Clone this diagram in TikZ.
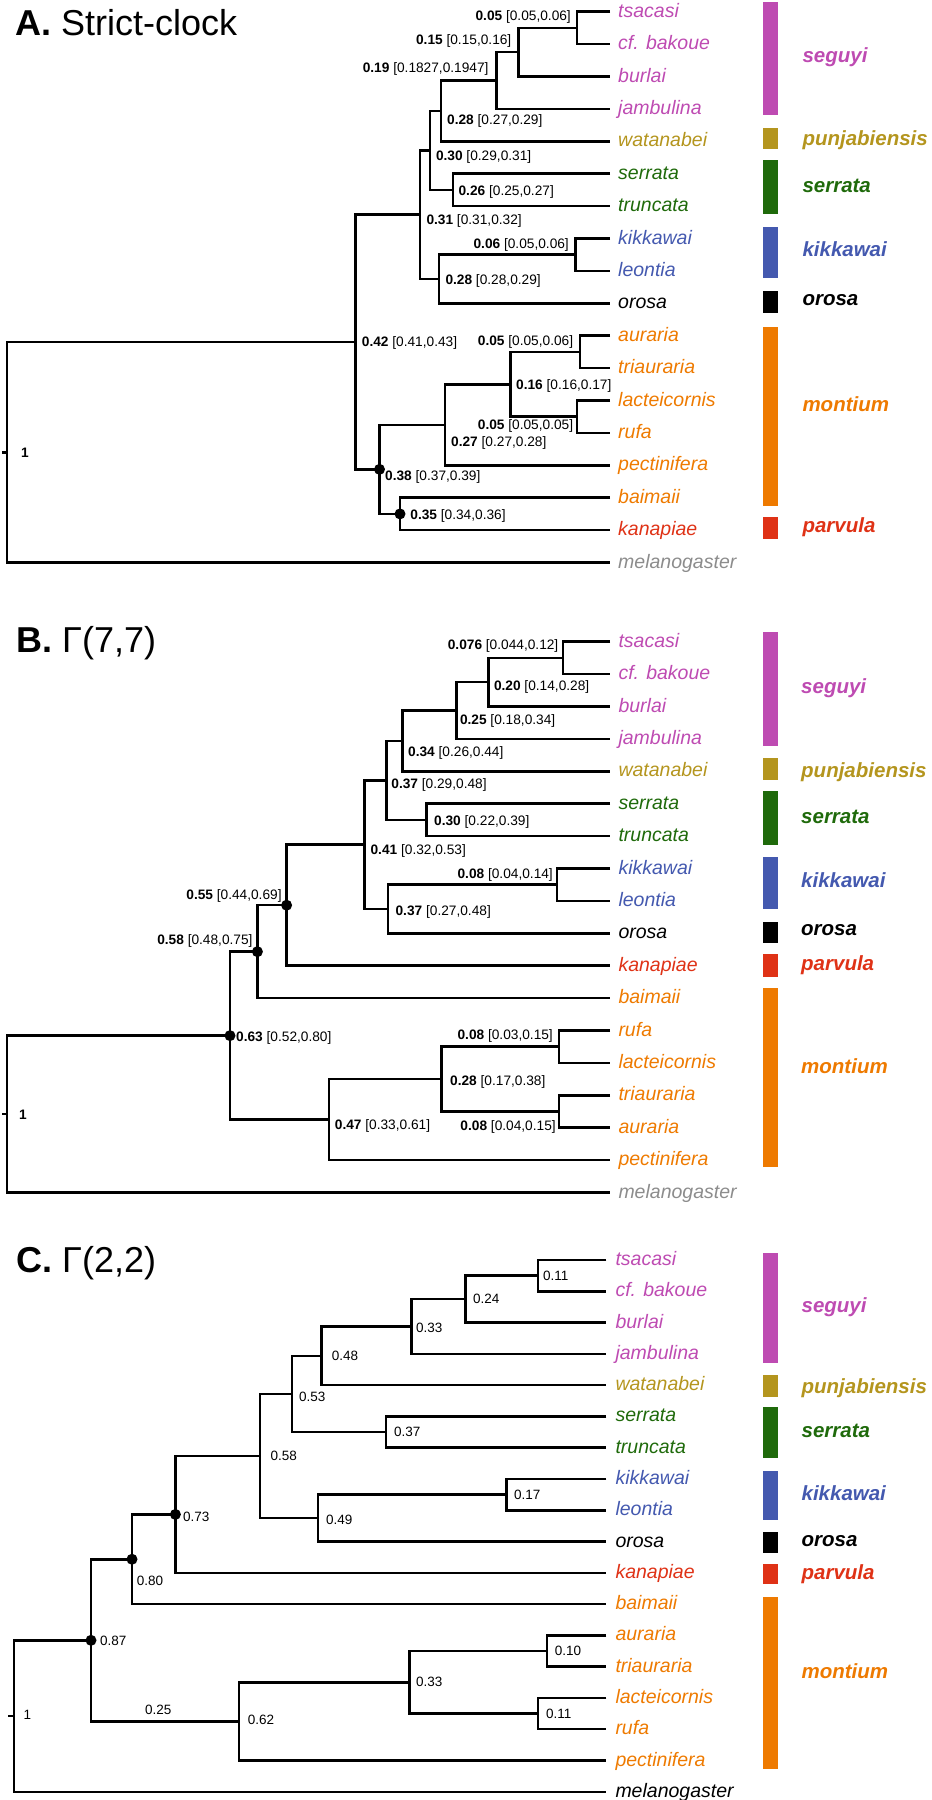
\documentclass[tikz,border=0pt]{standalone}
\usepackage{fontspec}
\setmainfont{Liberation Sans}
\definecolor{cseg}{HTML}{BE4BB2}
\definecolor{cpun}{HTML}{B4951E}
\definecolor{cser}{HTML}{1F6A0B}
\definecolor{ckik}{HTML}{4459AF}
\definecolor{cmon}{HTML}{EE7A00}
\definecolor{cpar}{HTML}{DF3216}
\definecolor{cmel}{HTML}{8C8C8C}
\newcommand{\nlb}[2]{\textbf{#1} #2}
\tikzset{
  br/.style={line width=2.5pt, line join=miter},
  tiplab/.style={font=\fontsize{19.5}{20}\selectfont\itshape, inner sep=0pt, anchor=base west},
  cladelab/.style={font=\fontsize{20.5}{22}\selectfont\bfseries\itshape, inner sep=0pt, anchor=base west},
  nlab/.style={font=\fontsize{13.7}{14}\selectfont, inner sep=0pt},
  clab/.style={font=\fontsize{13.5}{14}\selectfont, inner sep=0pt, anchor=base west},
  ttl/.style={font=\fontsize{36}{38}\selectfont, inner sep=0pt, anchor=base west},
  dotnode/.style={circle, fill=black, inner sep=0pt, minimum size=11pt},
}
\begin{document}
\begin{tikzpicture}[x=1pt, y=-1pt]
\useasboundingbox (0,0) rectangle (932,1800);

% ================= Panel A =================
\node[ttl] (titleA) at (15,35.7) {\textbf{A.} Strict-clock};
\foreach \i/\t/\c in {0/tsacasi/cseg,1/cf. bakoue/cseg,2/burlai/cseg,3/jambulina/cseg,4/watanabei/cpun,5/serrata/cser,6/truncata/cser,7/kikkawai/ckik,8/leontia/ckik,9/orosa/black,10/auraria/cmon,11/triauraria/cmon,12/lacteicornis/cmon,13/rufa/cmon,14/pectinifera/cmon,15/baimaii/cmon,16/kanapiae/cpar,17/melanogaster/cmel}{
  \coordinate (At\i) at (610,{11.7+32.4*\i});
  \node[tiplab, text=\c] (AL\i) at (618,{17.2+32.4*\i}) {\t};
}
\coordinate (Aa1) at (577,27.9);
\coordinate (Aa2) at (518.5,52.2);
\coordinate (Aa3) at (496.5,80.55);
\coordinate (Aa4) at (441,110.93);
\coordinate (Aa5) at (453,189.9);
\coordinate (Aa6) at (430,150.41);
\coordinate (Aa7) at (575.5,254.7);
\coordinate (Aa8) at (439,279);
\coordinate (Aa9) at (420,214.71);
\coordinate (Aa10) at (580,351.9);
\coordinate (Aa11) at (577,416.7);
\coordinate (Aa12) at (510.5,384.3);
\coordinate (Aa13) at (445,424.8);
\coordinate (Aa14) at (400,513.9);
\coordinate (Aa15) at (379.5,469.35);
\coordinate (Aa16) at (355.5,342.03);
\coordinate (Ar) at (7,452.27);
\coordinate (Arstem) at (2,452.27);
\draw[br] (At0) -| (Aa1) |- (At1);
\draw[br] (Aa1) -| (Aa2) |- (At2);
\draw[br] (Aa2) -| (Aa3) |- (At3);
\draw[br] (Aa3) -| (Aa4) |- (At4);
\draw[br] (At5) -| (Aa5) |- (At6);
\draw[br] (Aa4) -| (Aa6) |- (Aa5);
\draw[br] (At7) -| (Aa7) |- (At8);
\draw[br] (Aa7) -| (Aa8) |- (At9);
\draw[br] (Aa6) -| (Aa9) |- (Aa8);
\draw[br] (At10) -| (Aa10) |- (At11);
\draw[br] (At12) -| (Aa11) |- (At13);
\draw[br] (Aa10) -| (Aa12) |- (Aa11);
\draw[br] (Aa12) -| (Aa13) |- (At14);
\draw[br] (At15) -| (Aa14) |- (At16);
\draw[br] (Aa13) -| (Aa15) |- (Aa14);
\draw[br] (Aa9) -| (Aa16) |- (Aa15);
\draw[br] (Aa16) -| (Ar) |- (At17);
\draw[br] (Arstem) -- (Ar);
\node[dotnode] (AdA14) at (Aa14) {};
\node[dotnode] (AdA15) at (Aa15) {};
\node[nlab, anchor=base east] (An1) at (571,20.4) {\nlb{0.05}{[0.05,0.06]}};
\node[nlab, anchor=base east] (An2) at (511.5,44.7) {\nlb{0.15}{[0.15,0.16]}};
\node[nlab, anchor=base east] (An3) at (488.7,72) {\nlb{0.19}{[0.1827,0.1947]}};
\node[nlab, anchor=base west] (An4) at (447,124) {\nlb{0.28}{[0.27,0.29]}};
\node[nlab, anchor=base west] (An5) at (458.4,195.4) {\nlb{0.26}{[0.25,0.27]}};
\node[nlab, anchor=base west] (An6) at (435.8,160) {\nlb{0.30}{[0.29,0.31]}};
\node[nlab, anchor=base east] (An7) at (569,248.4) {\nlb{0.06}{[0.05,0.06]}};
\node[nlab, anchor=base west] (An8) at (445.3,284.7) {\nlb{0.28}{[0.28,0.29]}};
\node[nlab, anchor=base west] (An9) at (426.3,224.7) {\nlb{0.31}{[0.31,0.32]}};
\node[nlab, anchor=base east] (An10) at (573.3,345) {\nlb{0.05}{[0.05,0.06]}};
\node[nlab, anchor=base east] (An11) at (573.3,429.3) {\nlb{0.05}{[0.05,0.05]}};
\node[nlab, anchor=base west] (An12) at (516,389) {\nlb{0.16}{[0.16,0.17]}};
\node[nlab, anchor=base west] (An13) at (451,446) {\nlb{0.27}{[0.27,0.28]}};
\node[nlab, anchor=base west] (An14) at (410.2,519.4) {\nlb{0.35}{[0.34,0.36]}};
\node[nlab, anchor=base west] (An15) at (385,480) {\nlb{0.38}{[0.37,0.39]}};
\node[nlab, anchor=base west] (An16) at (361.7,346) {\nlb{0.42}{[0.41,0.43]}};
\node[nlab, anchor=base west] (Anr) at (20.8,457.5) {\textbf{1}};
% clade bars A
\fill[cseg] (762.5,1.7) rectangle (777.5,115);
\fill[cpun] (762.5,127.7) rectangle (777.5,149.3);
\fill[cser] (762.5,160) rectangle (777.5,214);
\fill[ckik] (762.5,226.7) rectangle (777.5,278.3);
\fill[black] (762.5,291) rectangle (777.5,313.3);
\fill[cmon] (762.5,327.3) rectangle (777.5,506);
\fill[cpar] (762.5,516.7) rectangle (777.5,539);
\node[cladelab, text=cseg] (AcSeg) at (802.3,62.7) {seguyi};
\node[cladelab, text=cpun] (AcPun) at (802.3,145.7) {punjabiensis};
\node[cladelab, text=cser] (AcSer) at (802.3,192.7) {serrata};
\node[cladelab, text=ckik] (AcKik) at (802.3,256.7) {kikkawai};
\node[cladelab, text=black] (AcOro) at (802.3,305) {orosa};
\node[cladelab, text=cmon] (AcMon) at (802.3,411.7) {montium};
\node[cladelab, text=cpar] (AcPar) at (802.3,532) {parvula};

% ================= Panel B =================
\node[ttl] (titleB) at (16,652.5) {\textbf{B.} Γ(7,7)};
\foreach \i/\t/\c in {0/tsacasi/cseg,1/cf. bakoue/cseg,2/burlai/cseg,3/jambulina/cseg,4/watanabei/cpun,5/serrata/cser,6/truncata/cser,7/kikkawai/ckik,8/leontia/ckik,9/orosa/black,10/kanapiae/cpar,11/baimaii/cmon,12/rufa/cmon,13/lacteicornis/cmon,14/triauraria/cmon,15/auraria/cmon,16/pectinifera/cmon,17/melanogaster/cmel}{
  \coordinate (Bt\i) at (610,{641.7+32.4*\i});
  \node[tiplab, text=\c] (BL\i) at (618.3,{647.2+32.4*\i}) {\t};
}
\coordinate (Bb1) at (563,657.9);
\coordinate (Bb2) at (488.7,682.2);
\coordinate (Bb3) at (456.6,710.55);
\coordinate (Bb4) at (402.5,740.93);
\coordinate (Bb5) at (426.3,819.9);
\coordinate (Bb6) at (386.4,780.41);
\coordinate (Bb7) at (557,884.7);
\coordinate (Bb8) at (388.2,909);
\coordinate (Bb9) at (364.4,844.71);
\coordinate (Bb10) at (286.6,905.2);
\coordinate (Bb11) at (257.4,951.65);
\coordinate (Bb12) at (558.9,1046.7);
\coordinate (Bb13) at (558.9,1111.5);
\coordinate (Bb14) at (441.7,1079.1);
\coordinate (Bb15) at (328.8,1119.6);
\coordinate (Bb16) at (230,1035.63);
\coordinate (Br) at (7,1114.06);
\coordinate (Brstem) at (2,1114.06);
\draw[br] (Bt0) -| (Bb1) |- (Bt1);
\draw[br] (Bb1) -| (Bb2) |- (Bt2);
\draw[br] (Bb2) -| (Bb3) |- (Bt3);
\draw[br] (Bb3) -| (Bb4) |- (Bt4);
\draw[br] (Bt5) -| (Bb5) |- (Bt6);
\draw[br] (Bb4) -| (Bb6) |- (Bb5);
\draw[br] (Bt7) -| (Bb7) |- (Bt8);
\draw[br] (Bb7) -| (Bb8) |- (Bt9);
\draw[br] (Bb6) -| (Bb9) |- (Bb8);
\draw[br] (Bb9) -| (Bb10) |- (Bt10);
\draw[br] (Bb10) -| (Bb11) |- (Bt11);
\draw[br] (Bt12) -| (Bb12) |- (Bt13);
\draw[br] (Bt14) -| (Bb13) |- (Bt15);
\draw[br] (Bb12) -| (Bb14) |- (Bb13);
\draw[br] (Bb14) -| (Bb15) |- (Bt16);
\draw[br] (Bb11) -| (Bb16) |- (Bb15);
\draw[br] (Bb16) -| (Br) |- (Bt17);
\draw[br] (Brstem) -- (Br);
\node[dotnode] (BdB10) at (Bb10) {};
\node[dotnode] (BdB11) at (Bb11) {};
\node[dotnode] (BdB16) at (Bb16) {};
\node[nlab, anchor=base east] (Bn1) at (558.5,649.2) {\nlb{0.076}{[0.044,0.12]}};
\node[nlab, anchor=base west] (Bn2) at (493.8,690.7) {\nlb{0.20}{[0.14,0.28]}};
\node[nlab, anchor=base west] (Bn3) at (459.8,724) {\nlb{0.25}{[0.18,0.34]}};
\node[nlab, anchor=base west] (Bn4) at (408,756.7) {\nlb{0.34}{[0.26,0.44]}};
\node[nlab, anchor=base west] (Bn5) at (434,825.4) {\nlb{0.30}{[0.22,0.39]}};
\node[nlab, anchor=base west] (Bn6) at (391.2,788) {\nlb{0.37}{[0.29,0.48]}};
\node[nlab, anchor=base east] (Bn7) at (553,878.7) {\nlb{0.08}{[0.04,0.14]}};
\node[nlab, anchor=base west] (Bn8) at (395.4,915) {\nlb{0.37}{[0.27,0.48]}};
\node[nlab, anchor=base west] (Bn9) at (370.4,854.7) {\nlb{0.41}{[0.32,0.53]}};
\node[nlab, anchor=base east] (Bn10) at (281.8,899.4) {\nlb{0.55}{[0.44,0.69]}};
\node[nlab, anchor=base east] (Bn11) at (252.7,944.7) {\nlb{0.58}{[0.48,0.75]}};
\node[nlab, anchor=base east] (Bn12) at (553,1039.7) {\nlb{0.08}{[0.03,0.15]}};
\node[nlab, anchor=base east] (Bn13) at (555.9,1130.7) {\nlb{0.08}{[0.04,0.15]}};
\node[nlab, anchor=base west] (Bn14) at (450,1085) {\nlb{0.28}{[0.17,0.38]}};
\node[nlab, anchor=base west] (Bn15) at (334.7,1129.7) {\nlb{0.47}{[0.33,0.61]}};
\node[nlab, anchor=base west] (Bn16) at (236,1041.4) {\nlb{0.63}{[0.52,0.80]}};
\node[nlab, anchor=base west] (Bnr) at (19,1119.7) {\textbf{1}};
% clade bars B
\fill[cseg] (762.5,631.7) rectangle (777.5,745.7);
\fill[cpun] (762.5,757.7) rectangle (777.5,780);
\fill[cser] (762.5,790.7) rectangle (777.5,845);
\fill[ckik] (762.5,856.7) rectangle (777.5,909);
\fill[black] (762.5,921.7) rectangle (777.5,943.3);
\fill[cpar] (762.5,954) rectangle (777.5,976.7);
\fill[cmon] (762.5,988.3) rectangle (777.5,1167.3);
\node[cladelab, text=cseg] (BcSeg) at (801,693) {seguyi};
\node[cladelab, text=cpun] (BcPun) at (801,777) {punjabiensis};
\node[cladelab, text=cser] (BcSer) at (801,823.4) {serrata};
\node[cladelab, text=ckik] (BcKik) at (801,887.4) {kikkawai};
\node[cladelab, text=black] (BcOro) at (801,935.7) {orosa};
\node[cladelab, text=cpar] (BcPar) at (801,970.3) {parvula};
\node[cladelab, text=cmon] (BcMon) at (801,1073) {montium};

% ================= Panel C =================
\node[ttl] (titleC) at (16,1272.5) {\textbf{C.} Γ(2,2)};
\foreach \i/\t/\c in {0/tsacasi/cseg,1/cf. bakoue/cseg,2/burlai/cseg,3/jambulina/cseg,4/watanabei/cpun,5/serrata/cser,6/truncata/cser,7/kikkawai/ckik,8/leontia/ckik,9/orosa/black,10/kanapiae/cpar,11/baimaii/cmon,12/auraria/cmon,13/triauraria/cmon,14/lacteicornis/cmon,15/rufa/cmon,16/pectinifera/cmon,17/melanogaster/black}{
  \coordinate (Ct\i) at (606.4,{1260+31.28*\i});
  \node[tiplab, text=\c] (CL\i) at (615.3,{1265.5+31.28*\i}) {\t};
}
\coordinate (Cc1) at (538,1275.64);
\coordinate (Cc2) at (465.5,1299.1);
\coordinate (Cc3) at (411.4,1326.47);
\coordinate (Cc4) at (321.6,1355.8);
\coordinate (Cc5) at (385.8,1432.04);
\coordinate (Cc6) at (291.9,1393.92);
\coordinate (Cc7) at (506.5,1494.6);
\coordinate (Cc8) at (318,1518.06);
\coordinate (Cc9) at (259.8,1455.99);
\coordinate (Cc10) at (175.4,1514.4);
\coordinate (Cc11) at (132,1559.24);
\coordinate (Cc12) at (547,1651);
\coordinate (Cc13) at (538,1713.56);
\coordinate (Cc14) at (409.6,1682.28);
\coordinate (Cc15) at (239,1721.38);
\coordinate (Cc16) at (91,1640.31);
\coordinate (Cr) at (14,1716.04);
\coordinate (Crstem) at (8,1716.04);
\draw[br] (Ct0) -| (Cc1) |- (Ct1);
\draw[br] (Cc1) -| (Cc2) |- (Ct2);
\draw[br] (Cc2) -| (Cc3) |- (Ct3);
\draw[br] (Cc3) -| (Cc4) |- (Ct4);
\draw[br] (Ct5) -| (Cc5) |- (Ct6);
\draw[br] (Cc4) -| (Cc6) |- (Cc5);
\draw[br] (Ct7) -| (Cc7) |- (Ct8);
\draw[br] (Cc7) -| (Cc8) |- (Ct9);
\draw[br] (Cc6) -| (Cc9) |- (Cc8);
\draw[br] (Cc9) -| (Cc10) |- (Ct10);
\draw[br] (Cc10) -| (Cc11) |- (Ct11);
\draw[br] (Ct12) -| (Cc12) |- (Ct13);
\draw[br] (Ct14) -| (Cc13) |- (Ct15);
\draw[br] (Cc12) -| (Cc14) |- (Cc13);
\draw[br] (Cc14) -| (Cc15) |- (Ct16);
\draw[br] (Cc11) -| (Cc16) |- (Cc15);
\draw[br] (Cc16) -| (Cr) |- (Ct17);
\draw[br] (Crstem) -- (Cr);
\node[dotnode] (CdC10) at (Cc10) {};
\node[dotnode] (CdC11) at (Cc11) {};
\node[dotnode] (CdC16) at (Cc16) {};
\node[clab] (Cn1) at (543,1280) {0.11};
\node[clab] (Cn2) at (473,1303) {0.24};
\node[clab] (Cn3) at (416,1332.3) {0.33};
\node[clab] (Cn4) at (331.7,1360.3) {0.48};
\node[clab] (Cn5) at (394,1436.3) {0.37};
\node[clab] (Cn6) at (299,1401.3) {0.53};
\node[clab] (Cn7) at (514,1499.7) {0.17};
\node[clab] (Cn8) at (325.8,1524.3) {0.49};
\node[clab] (Cn9) at (270.5,1460) {0.58};
\node[clab] (Cn10) at (183,1521) {0.73};
\node[clab] (Cn11) at (136.7,1585.7) {0.80};
\node[clab] (Cn12) at (554.7,1655.3) {0.10};
\node[clab] (Cn13) at (545.8,1718.7) {0.11};
\node[clab] (Cn14) at (416,1686.7) {0.33};
\node[clab] (Cn15) at (247.7,1724) {0.62};
\node[clab] (Cn16) at (100,1645.7) {0.87};
\node[clab] (Cbr25) at (145,1714.3) {0.25};
\node[clab] (Cnr) at (23.3,1719.3) {1};
% clade bars C
\fill[cseg] (762.5,1253.3) rectangle (777.5,1363.3);
\fill[cpun] (762.5,1375) rectangle (777.5,1396.7);
\fill[cser] (762.5,1406.7) rectangle (777.5,1458.3);
\fill[ckik] (762.5,1470.7) rectangle (777.5,1520);
\fill[black] (762.5,1532.3) rectangle (777.5,1552.7);
\fill[cpar] (762.5,1564) rectangle (777.5,1584.3);
\fill[cmon] (762.5,1596.7) rectangle (777.5,1768.7);
\node[cladelab, text=cseg] (CcSeg) at (801.4,1312.3) {seguyi};
\node[cladelab, text=cpun] (CcPun) at (801.4,1393.3) {punjabiensis};
\node[cladelab, text=cser] (CcSer) at (801.4,1437.7) {serrata};
\node[cladelab, text=ckik] (CcKik) at (801.4,1500) {kikkawai};
\node[cladelab, text=black] (CcOro) at (801.4,1546) {orosa};
\node[cladelab, text=cpar] (CcPar) at (801.4,1579.7) {parvula};
\node[cladelab, text=cmon] (CcMon) at (801.4,1678) {montium};
\end{tikzpicture}
\end{document}
